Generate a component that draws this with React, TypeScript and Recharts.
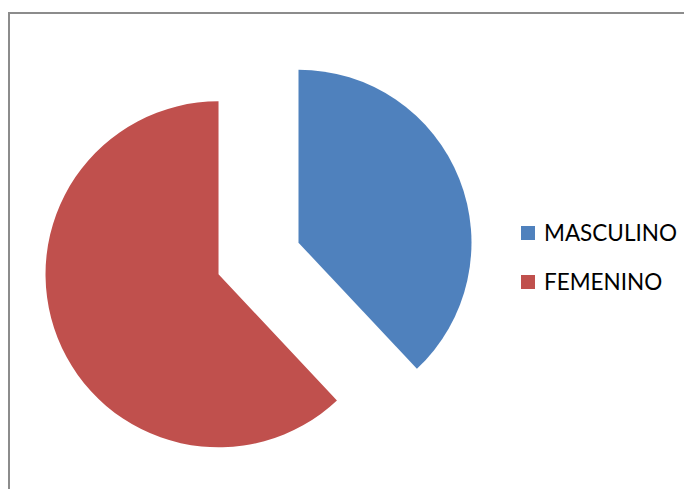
import { PieChart, Pie, Cell, Legend } from "recharts";

const categories = ["MASCULINO", "FEMENINO"];
const values = [38, 62];
const colors = ["#4F81BD", "#C0504D"];

const data = categories.map((name, i) => ({ name, value: values[i] }));

// pie centre is measured from the plot area (chart margin is 5)
const CX = 243.5;
const CY = 239.5;
const RADIUS = 173;
const EXPLODE = 43;

// push each slice out along its own middle angle
const total = values.reduce((a, b) => a + b, 0);
let acc = 0;
const offsets = values.map((v) => {
	const mid = ((acc + v / 2) / total) * Math.PI * 2;
	acc += v;
	return { dx: Math.sin(mid) * EXPLODE, dy: -Math.cos(mid) * EXPLODE };
});

function LegendBox() {
	return (
		<div>
			{categories.map((name, i) => (
				<div
					key={name}
					style={{
						display: "flex",
						alignItems: "center",
						height: 49,
						fontFamily: "Lato, 'Liberation Sans', sans-serif",
						fontSize: 22.5,
						color: "#000",
					}}
				>
					<span
						style={{
							width: 14,
							height: 14,
							background: colors[i],
							marginRight: 9,
							display: "inline-block",
						}}
					/>
					{name}
				</div>
			))}
		</div>
	);
}

export default function App() {
	return (
		<div
			style={{
				width: 684,
				height: 485,
				marginTop: 4,
				marginBottom: -8,
				borderTop: "2px solid #8c8c8c",
				borderLeft: "2px solid #8c8c8c",
				boxSizing: "border-box",
				overflow: "hidden",
			}}
		>
			<PieChart width={682} height={483}>
				{categories.map((name, i) => (
					<Pie
						key={name}
						data={data}
						dataKey="value"
						nameKey="name"
						cx={CX + offsets[i].dx}
						cy={CY + offsets[i].dy}
						outerRadius={RADIUS}
						startAngle={90}
						endAngle={-270}
						stroke="none"
						legendType="none"
						isAnimationActive={false}
					>
						{data.map((d, j) => (
							<Cell key={d.name} fill={j === i ? colors[j] : "none"} />
						))}
					</Pie>
				))}
				<Legend
					content={() => <LegendBox />}
					wrapperStyle={{ left: 511, top: 194, width: 180 }}
				/>
			</PieChart>
		</div>
	);
}
